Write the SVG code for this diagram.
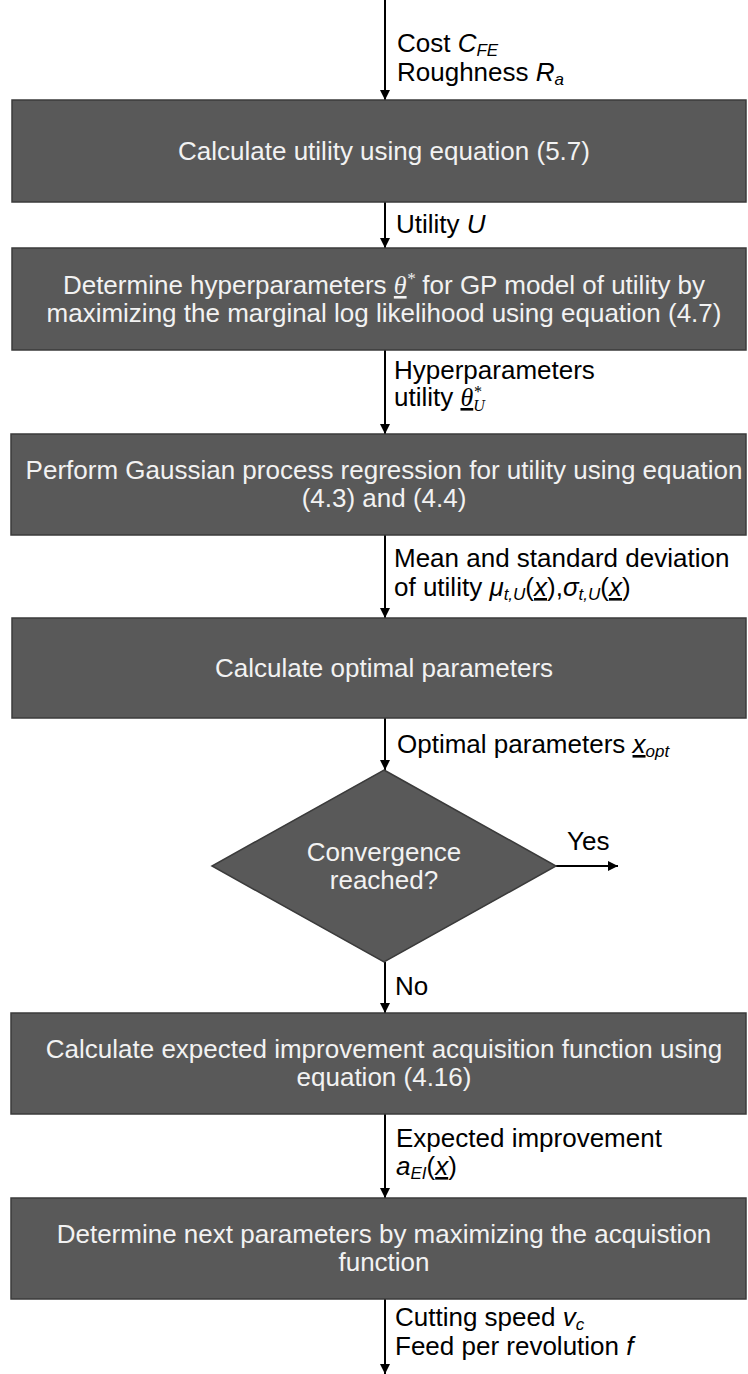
<svg xmlns="http://www.w3.org/2000/svg" width="748" height="1374" viewBox="0 0 748 1374">
  <defs>
    <style>
      .box { fill: #595959; stroke: #3b3b3b; stroke-width: 1.5; }
      .btxt { font-family: "Liberation Sans", Arial, sans-serif; font-size: 26px; fill: #f2f2f2; text-anchor: middle; }
      .lbl { font-family: "Liberation Sans", Arial, sans-serif; font-size: 26px; fill: #000; }
      .it { font-style: italic; }
      .sub { font-style: italic; font-size: 17px; }
      .math { font-family: "Liberation Serif", "Times New Roman", serif; font-style: italic; }
      .conn { stroke: #000; stroke-width: 2; fill: none; marker-end: url(#arrow); }
    </style>
    <marker id="arrow" viewBox="0 0 10 10" refX="10" refY="5" markerWidth="5" markerHeight="5" markerUnits="strokeWidth" orient="auto">
      <path d="M0,0 L10,5 L0,10 z" fill="#000"/>
    </marker>
  </defs>

  <rect width="748" height="1374" fill="#fff"/>

  <!-- connectors -->
  <g id="connectors">
    <line class="conn" x1="385" y1="0" x2="385" y2="100"/>
    <line class="conn" x1="385" y1="202" x2="385" y2="248"/>
    <line class="conn" x1="385" y1="350" x2="385" y2="434"/>
    <line class="conn" x1="385" y1="535" x2="385" y2="618"/>
    <line class="conn" x1="385" y1="718" x2="385" y2="770"/>
    <line class="conn" x1="556" y1="866" x2="618" y2="866"/>
    <line class="conn" x1="385" y1="962" x2="385" y2="1013"/>
    <line class="conn" x1="385" y1="1114" x2="385" y2="1198"/>
    <line class="conn" x1="385" y1="1299" x2="385" y2="1374"/>

    <text class="lbl" x="397" y="52">Cost <tspan class="it">C</tspan><tspan class="sub" dy="4">FE</tspan></text>
    <text class="lbl" x="397" y="81">Roughness <tspan class="it">R</tspan><tspan class="sub" dy="4">a</tspan></text>

    <text class="lbl" x="396" y="233">Utility <tspan class="it">U</tspan></text>

    <text class="lbl" x="394" y="379">Hyperparameters</text>
    <text class="lbl" x="394" y="406">utility <tspan class="math" text-decoration="underline">θ</tspan><tspan class="math" font-size="16" dy="-9">*</tspan><tspan class="math" font-size="16" dx="-8" dy="14">U</tspan></text>

    <text class="lbl" x="394" y="567">Mean and standard deviation</text>
    <text class="lbl" x="394" y="596">of utility <tspan class="it">μ</tspan><tspan class="sub" dy="4">t,U</tspan><tspan dy="-4">(</tspan><tspan class="it" text-decoration="underline">x</tspan>),<tspan class="it">σ</tspan><tspan class="sub" dy="4">t,U</tspan><tspan dy="-4">(</tspan><tspan class="it" text-decoration="underline">x</tspan>)</text>

    <text class="lbl" x="397" y="753">Optimal parameters <tspan class="it" text-decoration="underline">x</tspan><tspan class="sub" dy="4">opt</tspan></text>

    <text class="lbl" x="567" y="850">Yes</text>
    <text class="lbl" x="395" y="995">No</text>

    <text class="lbl" x="396" y="1147">Expected improvement</text>
    <text class="lbl" x="396" y="1175"><tspan class="it">a</tspan><tspan class="sub" dy="4">EI</tspan><tspan dy="-4">(</tspan><tspan class="it" text-decoration="underline">x</tspan>)</text>

    <text class="lbl" x="395" y="1326">Cutting speed <tspan class="it">v</tspan><tspan class="sub" dy="4">c</tspan></text>
    <text class="lbl" x="395" y="1355">Feed per revolution <tspan class="it">f</tspan></text>
  </g>

  <!-- process steps -->
  <g id="utility">
    <rect class="box" x="12" y="100" width="734" height="102"/>
    <text class="btxt" x="384" y="160">Calculate utility using equation (5.7)</text>
  </g>

  <g id="hyperparameters">
    <rect class="box" x="12" y="248" width="734" height="102"/>
    <text class="btxt" x="384" y="294">Determine hyperparameters <tspan class="math" text-decoration="underline">θ</tspan><tspan class="math" font-size="17" dy="-10">*</tspan><tspan dy="10"> for GP model of utility by</tspan></text>
    <text class="btxt" x="384" y="322">maximizing the marginal log likelihood using equation (4.7)</text>
  </g>

  <g id="gp-regression">
    <rect class="box" x="11" y="434" width="735" height="101"/>
    <text class="btxt" x="384" y="479">Perform Gaussian process regression for utility using equation</text>
    <text class="btxt" x="384" y="507">(4.3) and (4.4)</text>
  </g>

  <g id="optimal">
    <rect class="box" x="12" y="618" width="734" height="100"/>
    <text class="btxt" x="384" y="677">Calculate optimal parameters</text>
  </g>

  <g id="convergence">
    <polygon class="box" points="384,770 556,866 384,962 212,866"/>
    <text class="btxt" x="384" y="861">Convergence</text>
    <text class="btxt" x="384" y="889">reached?</text>
  </g>

  <g id="expected-improvement">
    <rect class="box" x="11" y="1013" width="735" height="101"/>
    <text class="btxt" x="384" y="1058">Calculate expected improvement acquisition function using</text>
    <text class="btxt" x="384" y="1086">equation (4.16)</text>
  </g>

  <g id="next-parameters">
    <rect class="box" x="11" y="1198" width="735" height="101"/>
    <text class="btxt" x="384" y="1243">Determine next parameters by maximizing the acquistion</text>
    <text class="btxt" x="384" y="1271">function</text>
  </g>
</svg>
